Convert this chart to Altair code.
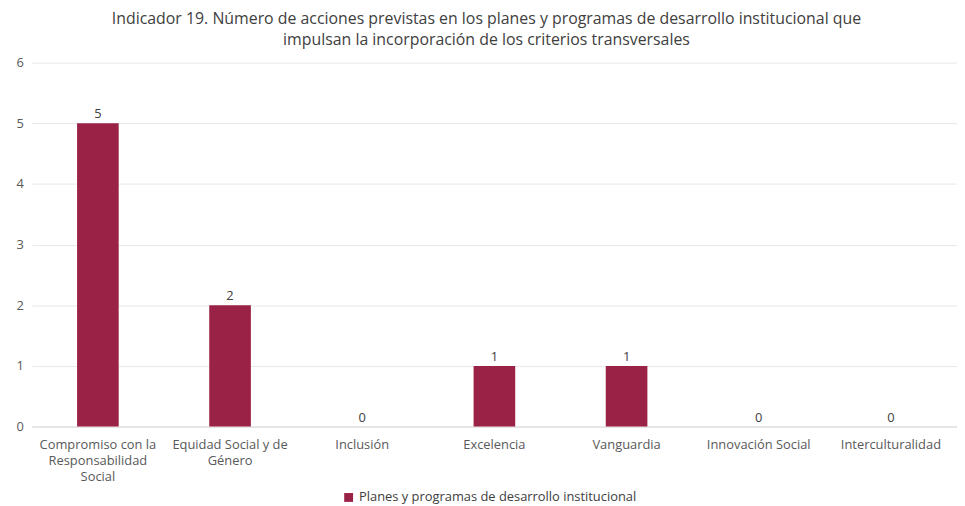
import altair as alt
import pandas as pd
import textwrap

categories = [
    "Compromiso con la Responsabilidad Social",
    "Equidad Social y de Género",
    "Inclusión",
    "Excelencia",
    "Vanguardia",
    "Innovación Social",
    "Interculturalidad",
]
values = [5, 2, 0, 1, 1, 0, 0]
series_name = "Planes y programas de desarrollo institucional"
title_lines = [
    "Indicador 19. Número de acciones previstas en los planes y programas de desarrollo institucional que",
    "impulsan la incorporación de los criterios transversales",
]

labels = ["\n".join(textwrap.wrap(c, 19)) for c in categories]
df = pd.DataFrame({"cat": labels, "value": values, "serie": series_name})

FONT = "Open Sans"
BAR = "#9B2247"

base = alt.Chart(df).encode(
    x=alt.X(
        "cat:N",
        sort=labels,
        title=None,
        scale=alt.Scale(paddingInner=0.685, paddingOuter=0.3425),
        axis=alt.Axis(
            labelAngle=0,
            labelExpr="split(datum.label, '\\n')",
            labelFont=FONT,
            labelFontSize=13,
            labelColor="#595959",
            labelLineHeight=16,
            labelPadding=12,
            ticks=False,
            domainColor="#d9d9d9",
            grid=False,
        ),
    ),
    y=alt.Y(
        "value:Q",
        title=None,
        scale=alt.Scale(domain=[0, 6]),
        axis=alt.Axis(
            values=[0, 1, 2, 3, 4, 5, 6],
            labelFont=FONT,
            labelFontSize=13,
            labelColor="#595959",
            labelAlign="left",
            labelPadding=16,
            ticks=False,
            domain=False,
            gridColor="#e8e8e8",
        ),
    ),
)

bars = base.mark_bar(color=BAR).encode(
    color=alt.Color(
        "serie:N",
        scale=alt.Scale(range=[BAR]),
        legend=alt.Legend(
            title=None,
            orient="none",
            legendX=313,
            legendY=432,
            symbolType="square",
            symbolSize=80,
            labelFont=FONT,
            labelFontSize=13,
            labelColor="#404040",
            labelLimit=0,
        ),
    )
)

text = base.mark_text(dy=-9, font=FONT, fontSize=13, color="#404040").encode(
    text=alt.Text("value:Q")
)

chart = (
    alt.layer(bars, text)
    .properties(
        width=933,
        height=367,
        padding={"left": 24, "top": 53, "right": 0, "bottom": 78},
        autosize=alt.AutoSizeParams(type="none"),
        title=alt.TitleParams(
            text=title_lines,
            font=FONT,
            fontSize=16,
            fontWeight="normal",
            color="#404040",
            anchor="middle",
            dx=-8,
            offset=9,
            lineHeight=21,
        ),
    )
    .configure_view(stroke=None)
)

chart.save("out.html", embed_options={"renderer": "svg", "actions": False})
